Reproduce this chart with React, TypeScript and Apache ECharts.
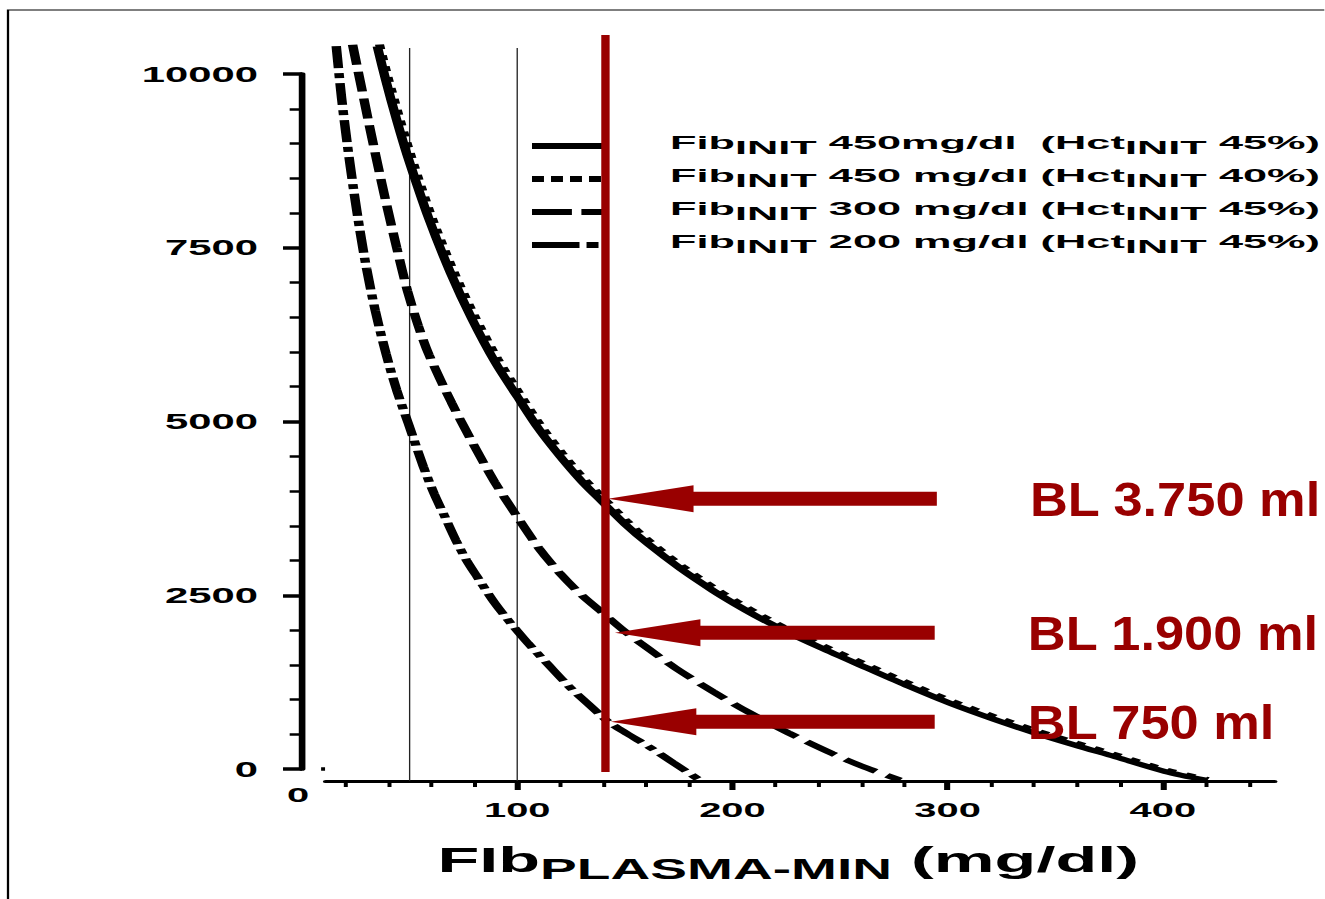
import React, { useEffect, useRef } from "react";
import * as echarts from "echarts";

// ---------- data ----------
// Fib INIT 450 mg/dl (Hct INIT 45%) – solid
const solidX = [35, 39, 44, 49, 59, 69, 79, 90, 100, 110, 120, 130, 140, 150, 161, 176, 191, 201, 211, 226, 241, 262, 282, 302, 322, 340, 359, 378, 401, 420];
const solidY = [10395, 9900, 9336, 8820, 7912, 7139, 6474, 5840, 5360, 4893, 4496, 4139, 3830, 3526, 3234, 2880, 2567, 2378, 2203, 1962, 1746, 1460, 1190, 935, 710, 525, 345, 175, -35, -160];
// Fib INIT 450 mg/dl (Hct INIT 40%) – dotted
const dottedX = [36, 40, 45, 50, 60, 70, 80, 91, 101, 111, 121, 131, 141, 151, 162, 177, 192, 202, 212, 227, 242, 263, 283, 303, 323, 341, 360, 379, 402, 421];
const dottedY = [10425, 9950, 9406, 8890, 7972, 7199, 6534, 5900, 5410, 4943, 4541, 4179, 3870, 3566, 3264, 2910, 2597, 2408, 2233, 1992, 1776, 1490, 1220, 965, 740, 555, 372, 198, -17, -150];
// Fib INIT 300 mg/dl (Hct INIT 45%) – dashed
const dashedX = [23.5, 27, 31, 35, 39, 44, 49, 54, 59, 69.5, 79.5, 89.5, 100, 110, 120, 130, 140, 150, 160.5, 173.5, 191, 208, 226, 246.5, 261.5, 278];
const dashedY = [10420, 9900, 9300, 8720, 8160, 7500, 6880, 6380, 5960, 5270, 4680, 4130, 3630, 3180, 2810, 2500, 2240, 1980, 1740, 1454, 1114, 808, 520, 220, 25, -159];
// Fib INIT 200 mg/dl (Hct INIT 45%) – dash-dot
const dashDotX = [15.9, 18.4, 21, 24, 27, 30, 34, 39, 44, 49.3, 56.4, 61.4, 66, 71.5, 76.5, 81.5, 89.5, 98, 105, 114, 124, 133, 142.3, 151.5, 161.5, 172.5, 184.8];
const dashDotY = [10400, 9650, 9000, 8330, 7730, 7200, 6600, 5980, 5450, 4980, 4350, 3960, 3655, 3290, 3000, 2760, 2390, 2060, 1810, 1515, 1190, 935, 681, 500, 315, 90, -160];

const fibInit = ["450", "450", "300", "200"];
const fibUnitSep = ["mg/dl  (Hct", " mg/dl (Hct", " mg/dl (Hct", " mg/dl (Hct"];
const hctInit = ["45%", "40%", "45%", "45%"];

const guideLinesX = [50, 100];
const guideYRange = [-173, 10375];
const cutoffX = 141;
const cutoffYRange = [-43, 10560];
const zeroTickX = [0, 10.7];

const arrowTailX = [295, 294, 294];
const arrowTipX = [142.2, 145.4, 143.5];
const arrowY = [3890, 1960, 680];
const arrowLabels = ["BL 3.750 ml", "BL 1.900 ml", "BL 750 ml"];

const xMajorTicks = [100, 200, 300, 400];
const xMinorTicks = [20, 40, 60, 80, 120, 140, 160, 180, 220, 240, 260, 280, 320, 340, 360, 380, 420, 440];
const yTickInterval = 2500;

// ---------- layout / style ----------
const S = 1.9; // the original figure is stretched horizontally
const W = 1325;
const H = 899;
const CW = W / S;
const FONT = '"Liberation Sans", Arial, Helvetica, sans-serif';
const RED = "#990000";

const pts = (xs: number[], ys: number[]) => xs.map((x, i) => [x, ys[i]]);

export default function App() {
  const ref = useRef<HTMLDivElement>(null);

  useEffect(() => {
    if (!ref.current) return;
    const chart = echarts.init(ref.current, null, { renderer: "svg", width: CW, height: H });

    const gridLeft = 325.7 / S;
    const gridWidth = 949 / S;

    const curveBase = {
      type: "line",
      symbol: "none",
      showSymbol: false,
      clip: false,
      silent: true,
      z: 3,
    };

    const legendStyles = [
      [],
      [6.3, 3.7],
      [21, 5],
      [25, 3.7, 6.3, 3.7],
    ];
    const legendRows = [146, 179, 212, 245];

    const legendGraphics: any[] = [];
    legendRows.forEach((ly, i) => {
      legendGraphics.push({
        type: "line",
        silent: true,
        shape: { x1: 532 / S, y1: ly, x2: 602 / S, y2: ly },
        style: { stroke: "#000", lineWidth: 6, lineDash: legendStyles[i].length ? legendStyles[i] : null, lineCap: "butt" },
      });
      legendGraphics.push({
        type: "text",
        silent: true,
        x: 670 / S,
        y: ly - 12.5,
        scaleX: 1.267,
        style: {
          text: `{m|Fib}{s|INIT}{m| ${fibInit[i]}${fibUnitSep[i]}}{s|INIT}{m| ${hctInit[i]})}`,
          align: "left",
          verticalAlign: "top",
          textAlign: "left",
          textVerticalAlign: "top",
          rich: {
            m: { fontSize: 18, fontWeight: "bold", fontFamily: FONT, lineHeight: 23, verticalAlign: "top", fill: "#000" },
            s: { fontSize: 18, fontWeight: "bold", fontFamily: FONT, lineHeight: 23, verticalAlign: "bottom", fill: "#000" },
          },
        },
      });
    });

    const option: any = {
      animation: false,
      backgroundColor: "#fff",
      textStyle: { fontFamily: FONT },
      grid: { left: gridLeft, width: gridWidth, top: 74, bottom: H - 769, containLabel: false },
      xAxis: [
        {
          type: "value",
          min: 11,
          max: 452,
          position: "bottom",
          offset: 12,
          axisLine: { show: true, onZero: false, lineStyle: { color: "#000", width: 3 } },
          axisTick: { show: true, customValues: xMajorTicks, length: 9, lineStyle: { color: "#000", width: 3.2 } },
          axisLabel: {
            show: true,
            customValues: xMajorTicks,
            margin: 18,
            color: "#000",
            fontSize: 21,
            fontWeight: "bold",
            fontFamily: FONT,
          },
          splitLine: { show: false },
          name: "{a|FIb}{b|PLASMA-MIN}{a| (mg/dl)}",
          nameLocation: "middle",
          nameGap: 61,
          nameTextStyle: {
            padding: [0, 12.6, 0, 0],
            rich: {
              a: { fontSize: 36, fontWeight: "bold", fontFamily: FONT, lineHeight: 41, verticalAlign: "top", color: "#000" },
              b: { fontSize: 29, fontWeight: "bold", fontFamily: FONT, lineHeight: 41, verticalAlign: "bottom", color: "#000" },
            },
          },
        },
        {
          type: "value",
          min: 11,
          max: 452,
          position: "bottom",
          offset: 12,
          axisLine: { show: false, onZero: false },
          axisTick: { show: true, customValues: xMinorTicks, length: 6, lineStyle: { color: "#000", width: 2.1 } },
          axisLabel: { show: false },
          splitLine: { show: false },
        },
      ],
      yAxis: {
        type: "value",
        min: 0,
        max: 10000,
        interval: yTickInterval,
        position: "left",
        offset: 12.46,
        axisLine: { show: true, onZero: false, lineStyle: { color: "#000", width: 3.5 } },
        axisTick: { show: true, length: 10, lineStyle: { color: "#000", width: 3.5 } },
        minorTick: { show: true, splitNumber: 5, length: 6.5, lineStyle: { color: "#000", width: 2.5 } },
        axisLabel: {
          margin: 23.2,
          color: "#000",
          fontSize: 22,
          fontWeight: "bold",
          fontFamily: FONT,
          formatter: (v: number) => String(v),
        },
        splitLine: { show: false },
      },
      series: [
        ...guideLinesX.map((gx) => ({
          ...curveBase,
          name: "guide " + gx,
          z: 1,
          data: [[gx, guideYRange[0]], [gx, guideYRange[1]]],
          lineStyle: { color: "#222", width: 0.7 },
        })),
        {
          ...curveBase,
          name: "zero tick",
          z: 2,
          data: [[zeroTickX[0], 0], [zeroTickX[1], 0]],
          lineStyle: { color: "#000", width: 3.5 },
        },
        {
          ...curveBase,
          name: "Fib INIT 450 mg/dl (Hct INIT 40%)",
          data: pts(dottedX, dottedY),
          smooth: 0.3,
          lineStyle: { color: "#000", width: 4.8, type: [5, 6], cap: "butt" },
        },
        {
          ...curveBase,
          name: "Fib INIT 450mg/dl (Hct INIT 45%)",
          data: pts(solidX, solidY),
          smooth: 0.3,
          lineStyle: { color: "#000", width: 5 },
        },
        {
          ...curveBase,
          name: "Fib INIT 300 mg/dl (Hct INIT 45%)",
          data: pts(dashedX, dashedY),
          smooth: 0.3,
          lineStyle: { color: "#000", width: 5, type: [20, 7], cap: "butt" },
        },
        {
          ...curveBase,
          name: "Fib INIT 200 mg/dl (Hct INIT 45%)",
          data: pts(dashDotX, dashDotY),
          smooth: 0.3,
          lineStyle: { color: "#000", width: 5, type: [22, 5, 5, 5], cap: "butt" },
        },
        {
          ...curveBase,
          name: "cutoff",
          z: 5,
          data: [[cutoffX, cutoffYRange[0]], [cutoffX, cutoffYRange[1]]],
          lineStyle: { color: RED, width: 4.4 },
        },
        {
          type: "custom",
          name: "arrows",
          clip: false,
          silent: true,
          z: 6,
          encode: { x: [0, 1], y: 2 },
          data: arrowY.map((y, i) => [arrowTailX[i], arrowTipX[i], y]),
          renderItem: (params: any, api: any) => {
            const tail = api.coord([api.value(0), api.value(2)]);
            const tip = api.coord([api.value(1), api.value(2)]);
            const y = tip[1];
            const headLen = 45;
            const headH = 13.5;
            const shaftH = 7;
            const hx = tip[0] + headLen;
            return {
              type: "group",
              children: [
                {
                  type: "polygon",
                  shape: {
                    points: [
                      [tip[0], y],
                      [hx, y - headH],
                      [hx, y - shaftH],
                      [tail[0], y - shaftH],
                      [tail[0], y + shaftH],
                      [hx, y + shaftH],
                      [hx, y + headH],
                    ],
                  },
                  style: { fill: RED },
                },
                {
                  type: "text",
                  x: tail[0] + 49,
                  y: y,
                  scaleX: 1.07 / S,
                  style: {
                    text: arrowLabels[params.dataIndex],
                    fill: RED,
                    font: `bold 49px ${FONT}`,
                    align: "left",
                    verticalAlign: "middle",
                    textAlign: "left",
                    textVerticalAlign: "middle",
                  },
                },
              ],
            };
          },
        },
      ],
      graphic: [
        {
          type: "rect",
          silent: true,
          shape: { x: 8 / S, y: 10, width: 2000, height: 2000 },
          style: { fill: "none", stroke: "#000", lineWidth: 1.2 },
        },
        {
          type: "text",
          silent: true,
          x: 298 / S,
          y: 795,
          style: {
            text: "0",
            font: `bold 21px ${FONT}`,
            fill: "#000",
            align: "center",
            verticalAlign: "middle",
            textAlign: "center",
            textVerticalAlign: "middle",
          },
        },
        ...legendGraphics,
      ],
    };

    chart.setOption(option);
    return () => chart.dispose();
  }, []);

  return (
    <div style={{ position: "fixed", left: 0, top: 0, width: W, height: H, overflow: "hidden", background: "#fff" }}>
      <div
        ref={ref}
        style={{ width: CW, height: H, transform: `scaleX(${S})`, transformOrigin: "0 0" }}
      />
    </div>
  );
}
